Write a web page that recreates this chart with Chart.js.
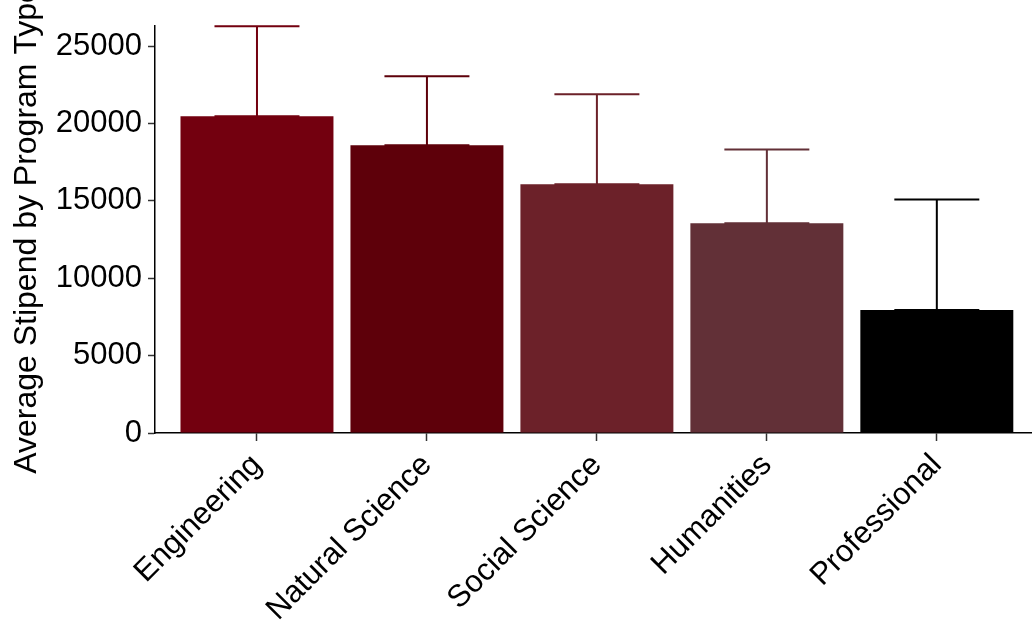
<!DOCTYPE html>
<html>
<head>
<meta charset="utf-8">
<script src="https://cdn.jsdelivr.net/npm/chart.js@4.4.1/dist/chart.umd.min.js"></script>
<style>
  html, body { margin: 0; padding: 0; background: #fff; overflow: hidden; }
  #wrap { width: 1032px; height: 623px; position: relative; }
</style>
</head>
<body>
<div id="wrap"><canvas id="c" width="1032" height="623"></canvas></div>
<script>
const categories = ["Engineering", "Natural Science", "Social Science", "Humanities", "Professional"];
const meanStipend = [20470, 18600, 16080, 13560, 7950];
const upperStipend = [26290, 23050, 21890, 18320, 15090];
const barColors = ["#73000f", "#5e000a", "#6c2129", "#623037", "#000000"];
const yTickValues = [0, 5000, 10000, 15000, 20000, 25000];

const FONT = "'Liberation Sans', Arial, sans-serif";

const errorBarPlugin = {
  id: 'errorBars',
  afterDatasetsDraw(chart) {
    const ctx = chart.ctx;
    const xs = chart.scales.x, ys = chart.scales.y;
    ctx.save();
    ctx.lineWidth = 2;
    categories.forEach((c, i) => {
      const x = xs.getPixelForValue(i);
      const xl = xs.getPixelForValue(i - 0.25);
      const xr = xs.getPixelForValue(i + 0.25);
      const y0 = ys.getPixelForValue(meanStipend[i]);
      const y1 = ys.getPixelForValue(upperStipend[i]);
      ctx.strokeStyle = barColors[i];
      ctx.beginPath();
      ctx.moveTo(x, y0); ctx.lineTo(x, y1);
      ctx.moveTo(xl, y1); ctx.lineTo(xr, y1);
      ctx.moveTo(xl, y0); ctx.lineTo(xr, y0);
      ctx.stroke();
    });
    ctx.restore();
  }
};

new Chart(document.getElementById('c'), {
  type: 'bar',
  data: {
    datasets: [{
      data: categories.map((c, i) => ({ x: i, y: meanStipend[i] })),
      backgroundColor: barColors,
      borderWidth: 0,
      barPercentage: 0.9,
      categoryPercentage: 1.0
    }]
  },
  options: {
    responsive: false,
    animation: false,
    devicePixelRatio: 1,
    layout: { padding: { top: 26, right: 0, bottom: 0, left: 0 } },
    plugins: { legend: { display: false }, tooltip: { enabled: false } },
    scales: {
      x: {
        type: 'linear',
        offset: false,
        min: -0.6,
        max: 4.56,
        afterBuildTicks(scale) { scale.ticks = categories.map((c, i) => ({ value: i })); },
        afterFit(scale) { scale.height = 623 - 433; },
        grid: { display: true, offset: false, drawOnChartArea: false, drawTicks: true, tickLength: 8, tickColor: '#333333', tickWidth: 1.5 },
        border: { display: true, color: '#000000', width: 1.5 },
        ticks: {
          autoSkip: false,
          maxRotation: 45, minRotation: 45,
          padding: 6,
          color: '#000000',
          font: { family: FONT, size: 31 },
          callback: (v) => categories[v]
        }
      },
      y: {
        type: 'linear',
        min: 0,
        max: 26300,
        afterBuildTicks(scale) { scale.ticks = yTickValues.map(v => ({ value: v })); },
        afterFit(scale) { scale.width = 155; },
        grid: { display: true, drawOnChartArea: false, drawTicks: true, tickLength: 7, tickColor: '#333333', tickWidth: 1.5 },
        border: { display: true, color: '#000000', width: 1.5 },
        ticks: {
          padding: 6,
          color: '#000000',
          font: { family: FONT, size: 31 },
          callback: (v) => String(v)
        },
        title: {
          display: true,
          text: 'Average Stipend by Program Type',
          color: '#000000',
          font: { family: FONT, size: 32 },
          padding: { top: 8, bottom: 0 }
        }
      }
    }
  },
  plugins: [errorBarPlugin]
});
</script>
</body>
</html>
